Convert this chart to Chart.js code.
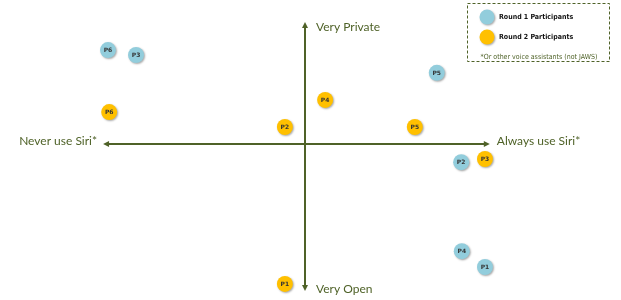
<!DOCTYPE html>
<html>
<head>
<meta charset="utf-8">
<script src="https://cdn.jsdelivr.net/npm/chart.js@4"></script>
<style>
  html, body { margin: 0; padding: 0; background: #fff; }
  #wrap { width: 621px; height: 300px; }
</style>
</head>
<body>
<div id="wrap"><canvas id="myChart"></canvas></div>
<script>
// participant positions: x = Never (-) .. Always (+) use Siri, y = Open (-) .. Private (+)
const round1Labels = ['P6', 'P3', 'P5', 'P2', 'P4', 'P1']
const round1X = [-3.23, -2.77, 2.16, 2.56, 2.57, 2.95]
const round1Y = [3.26, 3.09, 2.47, -0.63, -3.72, -4.27]

const round2Labels = ['P6', 'P4', 'P2', 'P5', 'P3', 'P1']
const round2X = [-3.21, 0.33, -0.33, 1.80, 2.95, -0.33]
const round2Y = [1.11, 1.53, 0.59, 0.59, -0.52, -4.86]

// arrow extents in data units
const axisX = [-3.31, 3.03]
const axisY = [-5.1, 4.24]

const axisText = {
    top: 'Very Private',
    bottom: 'Very Open',
    left: 'Never use Siri*',
    right: 'Always use Siri*'
}
const footnote = '*Or other voice assistants (not JAWS)'

const axisGreen = '#4F6228'

const toPoints = (xs, ys) => xs.map((x, i) => ({ x: x, y: ys[i] }))

function arrowHead(ctx, x, y, dx, dy) {
    const len = 6, w = 3
    ctx.beginPath()
    ctx.moveTo(x, y)
    ctx.lineTo(x - dx * len - dy * w, y - dy * len + dx * w)
    ctx.lineTo(x - dx * len + dy * w, y - dy * len - dx * w)
    ctx.closePath()
    ctx.fill()
}

const quadrantAxes = {
    id: 'quadrantAxes',
    beforeDatasetsDraw(chart) {
        const ctx = chart.ctx
        const sx = chart.scales.x, sy = chart.scales.y
        const cx = sx.getPixelForValue(0), cy = sy.getPixelForValue(0)
        const x0 = sx.getPixelForValue(axisX[0]), x1 = sx.getPixelForValue(axisX[1])
        const y0 = sy.getPixelForValue(axisY[0]), y1 = sy.getPixelForValue(axisY[1])
        ctx.save()
        ctx.strokeStyle = axisGreen
        ctx.fillStyle = axisGreen
        ctx.lineWidth = 2
        ctx.beginPath()
        ctx.moveTo(x0 + 4, cy); ctx.lineTo(x1 - 4, cy)
        ctx.moveTo(cx, y1 + 4); ctx.lineTo(cx, y0 - 4)
        ctx.stroke()
        arrowHead(ctx, x0, cy, -1, 0)
        arrowHead(ctx, x1, cy, 1, 0)
        arrowHead(ctx, cx, y1, 0, -1)
        arrowHead(ctx, cx, y0, 0, 1)

        ctx.font = '12px Lato'
        ctx.textBaseline = 'middle'
        ctx.textAlign = 'left'
        ctx.fillText(axisText.top, cx + 11, y1 + 5)
        ctx.fillText(axisText.bottom, cx + 11, y0 - 2)
        ctx.fillText(axisText.right, x1 + 7, cy - 3)
        ctx.textAlign = 'right'
        ctx.fillText(axisText.left, x0 - 6, cy - 3)
        ctx.restore()
    }
}

const pointText = {
    id: 'pointText',
    afterDatasetsDraw(chart) {
        const ctx = chart.ctx
        ctx.save()
        ctx.font = 'bold 6px "DejaVu Sans"'
        ctx.fillStyle = '#333'
        ctx.textAlign = 'center'
        ctx.textBaseline = 'middle'
        chart.data.datasets.forEach((ds, di) => {
            chart.getDatasetMeta(di).data.forEach((el, i) => {
                ctx.fillText(ds.pointNames[i], el.x, el.y + 0.5)
            })
        })
        ctx.restore()
    }
}

const boxLegend = {
    id: 'boxLegend',
    afterDraw(chart) {
        const ctx = chart.ctx
        ctx.save()
        ctx.setLineDash([3, 2])
        ctx.strokeStyle = axisGreen
        ctx.lineWidth = 1
        ctx.strokeRect(467.5, 3.5, 142, 58)
        ctx.setLineDash([])
        chart.data.datasets.forEach((ds, i) => {
            const y = 17 + i * 20
            ctx.shadowColor = 'rgba(0,0,0,0.35)'
            ctx.shadowBlur = 2
            ctx.shadowOffsetX = 1
            ctx.shadowOffsetY = 1
            ctx.fillStyle = ds.backgroundColor
            ctx.beginPath()
            ctx.arc(487, y, 7.5, 0, Math.PI * 2)
            ctx.fill()
            ctx.shadowColor = 'transparent'
            ctx.fillStyle = '#111'
            ctx.font = 'bold 7px "DejaVu Sans Condensed"'
            ctx.textAlign = 'left'
            ctx.textBaseline = 'middle'
            ctx.fillText(ds.label, 499, y)
        })
        ctx.fillStyle = axisGreen
        ctx.font = '7px "DejaVu Sans Condensed"'
        ctx.textAlign = 'center'
        ctx.fillText(footnote, 539, 57)
        ctx.restore()
    }
}

const shadowPoints = {
    id: 'shadowPoints',
    beforeDatasetsDraw(chart) {
        chart.ctx.save()
        chart.ctx.shadowColor = 'rgba(0,0,0,0.35)'
        chart.ctx.shadowBlur = 2
        chart.ctx.shadowOffsetX = 1
        chart.ctx.shadowOffsetY = 1
    },
    afterDatasetsDraw(chart) {
        chart.ctx.restore()
    }
}

const data = {
    datasets: [{
        label: 'Round 1 Participants',
        data: toPoints(round1X, round1Y),
        pointNames: round1Labels,
        backgroundColor: '#92CDDC',
        borderWidth: 0,
        pointRadius: 8,
        pointHoverRadius: 8,
        clip: false
    }, {
        label: 'Round 2 Participants',
        data: toPoints(round2X, round2Y),
        pointNames: round2Labels,
        backgroundColor: '#FFC000',
        borderWidth: 0,
        pointRadius: 8,
        pointHoverRadius: 8,
        clip: false
    }]
}

const config = {
    type: 'scatter',
    data: data,
    plugins: [quadrantAxes, shadowPoints, pointText, boxLegend],
    options: {
        responsive: true,
        maintainAspectRatio: false,
        animation: false,
        layout: { autoPadding: false, padding: { left: 0, right: 11, top: 0, bottom: 12 } },
        plugins: {
            legend: { display: false },
            tooltip: { enabled: false }
        },
        scales: {
            x: { type: 'linear', min: -5, max: 5, display: false },
            y: { type: 'linear', min: -5, max: 5, display: false }
        }
    }
}

const myChart = new Chart(document.getElementById('myChart'), config)
</script>
</body>
</html>
